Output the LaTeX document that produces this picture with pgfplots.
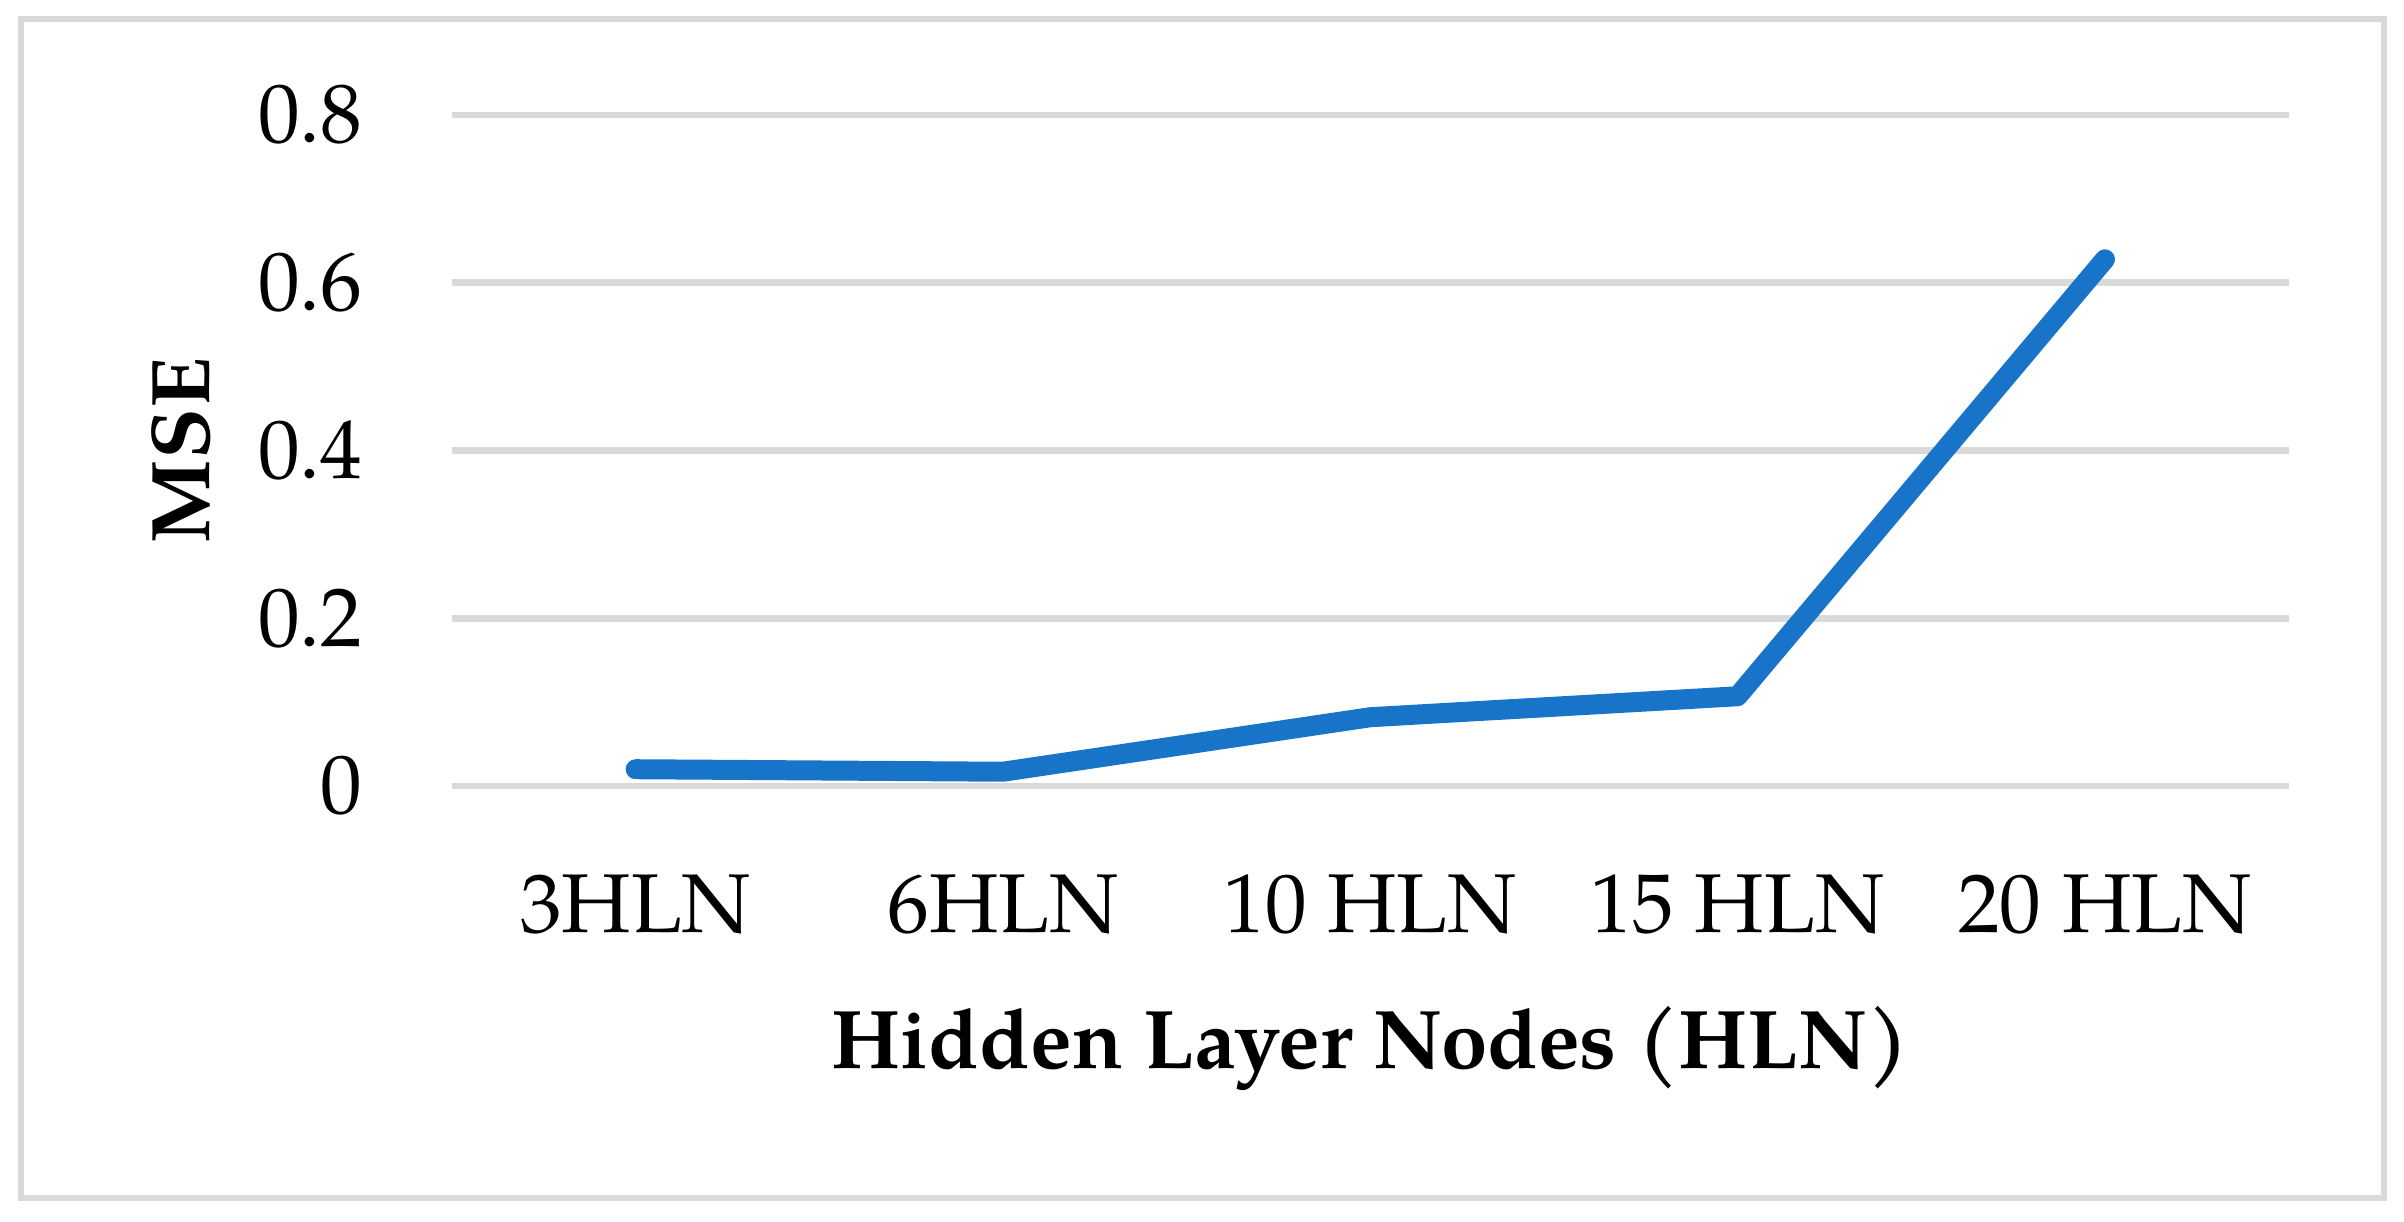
\documentclass[border=0pt]{standalone}
\usepackage{fontspec}
\setmainfont{TeX Gyre Pagella}
\usepackage{pgfplots}
\pgfplotsset{compat=1.18}
\definecolor{lineblue}{HTML}{1874C8}
\definecolor{gridgray}{HTML}{D9D9D9}
\begin{document}
\begin{tikzpicture}[x=1pt,y=1pt]
\path[use as bounding box] (-135.6,-130.8) rectangle (585.6,235.8);
\draw[gridgray, line width=2pt] (-129.3,-123.6) rectangle (579.6,230.1);
\begin{axis}[
 at={(0,0)}, anchor=south west, scale only axis,
 width=551pt, height=201.3pt,
 xmin=-0.5, xmax=4.5, ymin=0, ymax=0.8,
 xtick={0,1,2,3,4}, xticklabels={3HLN,6HLN,10 HLN,15 HLN,20 HLN},
 ytick={0,0.2,0.4,0.6,0.8}, yticklabels={0,0.2,0.4,0.6,0.8},
 axis line style={draw=none}, major tick length=0pt,
 ymajorgrids, grid style={gridgray, line width=2pt},
 tick label style={font=\fontsize{25}{30}\selectfont, inner sep=0pt},
 xticklabel style={anchor=north, yshift=-26.5pt},
 yticklabel style={anchor=east, xshift=-26.7pt},
 xlabel={Hidden Layer Nodes (HLN)}, ylabel={MSE},
 label style={font=\fontsize{25}{30}\selectfont\bfseries, inner sep=0pt},
 xlabel style={at={(axis description cs:0.5,-0.421)}, anchor=base},
 ylabel style={at={(axis description cs:-0.1323,0.5)}, anchor=base, rotate=0},
 clip=false
]
\addplot[lineblue, line width=6pt, line cap=round, line join=round, mark=none]
 coordinates {(0,0.020) (1,0.017) (2,0.082) (3,0.107) (4,0.628)};
\end{axis}
\end{tikzpicture}
\end{document}
